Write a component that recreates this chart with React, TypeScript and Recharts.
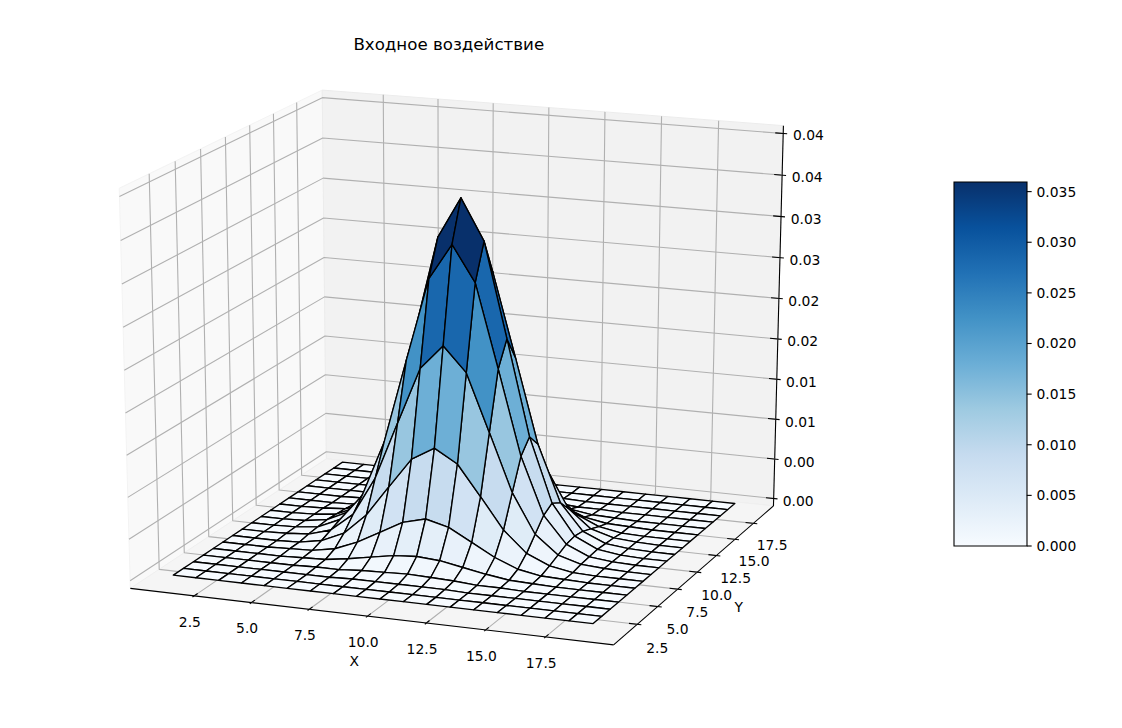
import React from 'react';
import { ScatterChart, Scatter, XAxis, YAxis, BarChart, Bar } from 'recharts';

const FONT = '"DejaVu Sans", "Liberation Sans", sans-serif';

// ---------------- data ----------------
const xValues = [1, 2, 3, 4, 5, 6, 7, 8, 9, 10, 11, 12, 13, 14, 15, 16, 17, 18, 19];
const yValues = [1, 2, 3, 4, 5, 6, 7, 8, 9, 10, 11, 12, 13, 14, 15, 16, 17, 18, 19];

const Z0 = [0, 0, 0, 0, 0, 0, 0, 0, 0, 0, 0, 0, 0, 0, 0, 0, 0, 0, 0];
const Z7 = [0, 0, 0, 0, 0, 0, 0, 0.0001, 0.0001, 0.0001, 0.0001, 0.0001, 0, 0, 0, 0, 0, 0, 0];
const Z6 = [0, 0, 0, 0, 0, 0.0001, 0.0001, 0.0003, 0.0004, 0.0005, 0.0004, 0.0003, 0.0001, 0.0001, 0, 0, 0, 0, 0];
const Z5 = [0, 0, 0, 0, 0.0001, 0.0002, 0.0006, 0.0011, 0.0016, 0.0018, 0.0016, 0.0011, 0.0006, 0.0002, 0.0001, 0, 0, 0, 0];
const Z4 = [0, 0, 0, 0.0001, 0.0002, 0.0007, 0.0018, 0.0033, 0.0048, 0.0055, 0.0048, 0.0033, 0.0018, 0.0007, 0.0002, 0.0001, 0, 0, 0];
const Z3 = [0, 0, 0, 0.0001, 0.0006, 0.0018, 0.0043, 0.008, 0.0116, 0.0132, 0.0116, 0.008, 0.0043, 0.0018, 0.0006, 0.0001, 0, 0, 0];
const Z2 = [0, 0, 0.0001, 0.0003, 0.0011, 0.0033, 0.008, 0.0149, 0.0217, 0.0246, 0.0217, 0.0149, 0.008, 0.0033, 0.0011, 0.0003, 0.0001, 0, 0];
const Z1 = [0, 0, 0.0001, 0.0004, 0.0016, 0.0048, 0.0116, 0.0217, 0.0316, 0.0358, 0.0316, 0.0217, 0.0116, 0.0048, 0.0016, 0.0004, 0.0001, 0, 0];
const ZC = [0, 0, 0.0001, 0.0005, 0.0018, 0.0055, 0.0132, 0.0246, 0.0358, 0.0406, 0.0358, 0.0246, 0.0132, 0.0055, 0.0018, 0.0005, 0.0001, 0, 0];
// rows for y = 1 .. 19
const zRows: number[][] = [Z0, Z0, Z7, Z6, Z5, Z4, Z3, Z2, Z1, ZC, Z1, Z2, Z3, Z4, Z5, Z6, Z7, Z0, Z0];

const xTicks = [2.5, 5, 7.5, 10, 12.5, 15, 17.5];
const xTickLabels = ['2.5', '5.0', '7.5', '10.0', '12.5', '15.0', '17.5'];
const yTicks = [2.5, 5, 7.5, 10, 12.5, 15, 17.5];
const yTickLabels = ['2.5', '5.0', '7.5', '10.0', '12.5', '15.0', '17.5'];
const zTicks = [0, 0.004944, 0.009889, 0.014833, 0.019778, 0.024722, 0.029667, 0.034611, 0.039556, 0.0445];
const zTickLabels = ['0.00', '0.00', '0.01', '0.01', '0.02', '0.02', '0.03', '0.03', '0.04', '0.04'];
const cbTicks = [0, 0.005, 0.01, 0.015, 0.02, 0.025, 0.03, 0.035];

const TITLE = 'Входное воздействие';
const X_LABEL = 'X';
const Y_LABEL = 'Y';

// ---------------- view / layout ----------------
const X_LIM = [0.1, 19.9];
const Y_LIM = [0.1, 19.9];
const Z_LIM = [0, 0.0445];
const ELEV = 18;
const AZIM = -69;
const DIST = 10;

const FIG_W = 1122;
const FIG_H = 728;
const AX_FRAC_W = 0.8;
const VIEW_LIM = [-0.095, 0.09];
const X_DOMAIN = [VIEW_LIM[0], VIEW_LIM[0] + (VIEW_LIM[1] - VIEW_LIM[0]) / AX_FRAC_W];
const Y_DOMAIN = [VIEW_LIM[0], VIEW_LIM[1]];

const CB_X = 0.85 * FIG_W;
const CB_Y = 0.25 * FIG_H;
const CB_H = 0.5 * FIG_H;
const CB_W = CB_H / 5;

const TICK_FS = 13.89;
const TITLE_FS = 16.67;

const BLUES = ['#f7fbff', '#deebf7', '#c6dbef', '#9ecae1', '#6baed6', '#4292c6', '#2171b5', '#08519c', '#08306b'];

// ---------------- projection ----------------
const er = (ELEV * Math.PI) / 180;
const ar = (AZIM * Math.PI) / 180;
const W = [Math.cos(er) * Math.cos(ar), Math.cos(er) * Math.sin(ar), Math.sin(er)];
const U = [-Math.sin(ar), Math.cos(ar), 0];
const V = [-Math.sin(er) * Math.cos(ar), -Math.sin(er) * Math.sin(ar), Math.cos(er)];

const EDGE = 0.5 + 1 / 48;
const TD = (2 * EDGE) / 12;

const qx = (v: number) => (v - X_LIM[0]) / (X_LIM[1] - X_LIM[0]) - 0.5;
const qy = (v: number) => (v - Y_LIM[0]) / (Y_LIM[1] - Y_LIM[0]) - 0.5;
const qz = (v: number) => (v - Z_LIM[0]) / (Z_LIM[1] - Z_LIM[0]) - 0.5;

function project(a: number, b: number, c: number) {
  const du = U[0] * a + U[1] * b + U[2] * c;
  const dv = V[0] * a + V[1] * b + V[2] * c;
  const dw = W[0] * a + W[1] * b + W[2] * c;
  const den = DIST - dw;
  return { sx: du / den, sy: dv / den, depth: den };
}

function hexToRgb(h: string) {
  return [parseInt(h.slice(1, 3), 16), parseInt(h.slice(3, 5), 16), parseInt(h.slice(5, 7), 16)];
}
function blues(t: number) {
  const tt = Math.max(0, Math.min(1, t));
  const f = tt * 8;
  const i = Math.min(7, Math.floor(f));
  const r = f - i;
  const a = hexToRgb(BLUES[i]);
  const b = hexToRgb(BLUES[i + 1]);
  const c = a.map((v, k) => Math.round(v + (b[k] - v) * r));
  return `rgb(${c[0]},${c[1]},${c[2]})`;
}

type Style = { fill: string; stroke: string; sw: number };

// panes
const PANES: { pts: number[][]; style: Style }[] = [
  { pts: [[-EDGE, -EDGE, -EDGE], [-EDGE, EDGE, -EDGE], [-EDGE, EDGE, EDGE], [-EDGE, -EDGE, EDGE]], style: { fill: '#f9f9f9', stroke: '#f3f3f3', sw: 1 } },
  { pts: [[-EDGE, EDGE, -EDGE], [EDGE, EDGE, -EDGE], [EDGE, EDGE, EDGE], [-EDGE, EDGE, EDGE]], style: { fill: '#f2f2f2', stroke: '#ececec', sw: 1 } },
  { pts: [[-EDGE, -EDGE, -EDGE], [EDGE, -EDGE, -EDGE], [EDGE, EDGE, -EDGE], [-EDGE, EDGE, -EDGE]], style: { fill: '#f5f5f5', stroke: '#efefef', sw: 1 } },
];
const paneData = PANES.flatMap((p) => p.pts.map((q) => project(q[0], q[1], q[2])));
const paneStyles = PANES.map((p) => p.style);

// grid lines (3 points each)
const gridPolys: number[][][] = [
  ...xTicks.map((t) => [[qx(t), -EDGE, -EDGE], [qx(t), EDGE, -EDGE], [qx(t), EDGE, EDGE]]),
  ...yTicks.map((t) => [[EDGE, qy(t), -EDGE], [-EDGE, qy(t), -EDGE], [-EDGE, qy(t), EDGE]]),
  ...zTicks.map((t) => [[-EDGE, -EDGE, qz(t)], [-EDGE, EDGE, qz(t)], [EDGE, EDGE, qz(t)]]),
];
const gridData = gridPolys.flatMap((g) => g.map((q) => project(q[0], q[1], q[2])));
const gridStyles = gridPolys.map(() => ({ fill: 'none', stroke: '#b0b0b0', sw: 1.1 }));

// axis lines (2 points each)
const axisSegs: number[][][] = [
  [[-EDGE, -EDGE, -EDGE], [EDGE, -EDGE, -EDGE]],
  [[EDGE, -EDGE, -EDGE], [EDGE, EDGE, -EDGE]],
  [[EDGE, EDGE, -EDGE], [EDGE, EDGE, EDGE]],
];
const axisData = axisSegs.flatMap((g) => g.map((q) => project(q[0], q[1], q[2])));
const axisStyles = axisSegs.map(() => ({ fill: 'none', stroke: '#000', sw: 1.1 }));

// tick marks (2 points each)
const tickSegs: number[][][] = [
  ...xTicks.map((t) => [[qx(t), -EDGE - 0.1 * TD, -EDGE], [qx(t), -EDGE + 0.2 * TD, -EDGE]]),
  ...yTicks.map((t) => [[EDGE + 0.1 * TD, qy(t), -EDGE], [EDGE - 0.2 * TD, qy(t), -EDGE]]),
  ...zTicks.map((t) => [[EDGE + 0.1 * TD, EDGE, qz(t)], [EDGE - 0.2 * TD, EDGE, qz(t)]]),
];
const tickData = tickSegs.flatMap((g) => g.map((q) => project(q[0], q[1], q[2])));
const tickStyles = tickSegs.map(() => ({ fill: 'none', stroke: '#000', sw: 1.1 }));

// labels
const labelData = [
  ...xTicks.map((t, i) => ({ ...project(qx(t), -EDGE - 0.024, -EDGE - 0.06), label: xTickLabels[i] })),
  ...yTicks.map((t, i) => ({ ...project(EDGE + 0.043, qy(t), -EDGE - 0.055), label: yTickLabels[i] })),
  ...zTicks.map((t, i) => ({ ...project(EDGE + 0.055, EDGE, qz(t)), label: zTickLabels[i] })),
  { ...project(0, -EDGE - 0.072, -EDGE - 0.091), label: X_LABEL },
  { ...project(EDGE + 0.091, 0, -EDGE - 0.083), label: Y_LABEL },
];

// surface cells
type Cell = { pts: { sx: number; sy: number; depth: number }[]; avg: number; depth: number };
const cells: Cell[] = [];
for (let j = 0; j < yValues.length - 1; j++) {
  for (let i = 0; i < xValues.length - 1; i++) {
    const verts = [
      [i, j],
      [i + 1, j],
      [i + 1, j + 1],
      [i, j + 1],
    ];
    const zs = verts.map(([a, b]) => zRows[b][a]);
    const pts = verts.map(([a, b], k) => project(qx(xValues[a]), qy(yValues[b]), qz(zs[k])));
    const avg = zs.reduce((s, v) => s + v, 0) / 4;
    const depth = pts.reduce((s, p) => s + p.depth, 0) / 4;
    cells.push({ pts, avg, depth });
  }
}
const avgMin = Math.min(...cells.map((c) => c.avg));
const avgMax = Math.max(...cells.map((c) => c.avg));
cells.sort((a, b) => b.depth - a.depth);
const surfData = cells.flatMap((c) => c.pts.map((p) => ({ sx: p.sx, sy: p.sy })));
const surfStyles = cells.map((c) => ({ fill: blues((c.avg - avgMin) / (avgMax - avgMin)), stroke: '#000', sw: 1.35 }));

function groupRenderer(k: number, styles: Style[], closed: boolean) {
  return (props: any) => {
    const pts: { x: number; y: number }[] = props.points || [];
    const els: React.ReactElement[] = [];
    for (let g = 0; g * k < pts.length; g++) {
      const seg = pts.slice(g * k, g * k + k);
      const d = seg.map((p, i) => `${i ? 'L' : 'M'}${p.x},${p.y}`).join('') + (closed ? 'Z' : '');
      const s = styles[g];
      els.push(
        <path key={g} d={d} fill={closed ? s.fill : 'none'} stroke={s.stroke} strokeWidth={s.sw} strokeLinejoin="round" />
      );
    }
    return <g>{els}</g>;
  };
}

const noShape = () => <g />;
const labelShape = (p: any) => (
  <text
    x={p.cx}
    y={p.cy}
    textAnchor="middle"
    dominantBaseline="central"
    fontSize={TICK_FS}
    fontFamily={FONT}
    fill="#000"
  >
    {p.payload.label}
  </text>
);

const cbData = [{ name: 'cb', v: avgMax }];

export default function App() {
  return (
    <div style={{ position: 'absolute', left: 0, top: 0, width: FIG_W, height: FIG_H, background: '#fff' }}>
      <div style={{ position: 'absolute', left: 0, top: 0 }}>
        <ScatterChart width={FIG_W} height={FIG_H} margin={{ top: 0, right: 0, bottom: 0, left: 0 }}>
          <XAxis type="number" dataKey="sx" domain={X_DOMAIN} allowDataOverflow hide />
          <YAxis type="number" dataKey="sy" domain={Y_DOMAIN} allowDataOverflow hide />
          <Scatter data={paneData} line={groupRenderer(4, paneStyles, true)} shape={noShape} isAnimationActive={false} />
          <Scatter data={axisData} line={groupRenderer(2, axisStyles, false)} shape={noShape} isAnimationActive={false} />
          <Scatter data={gridData} line={groupRenderer(3, gridStyles, false)} shape={noShape} isAnimationActive={false} />
          <Scatter data={tickData} line={groupRenderer(2, tickStyles, false)} shape={noShape} isAnimationActive={false} />
          <Scatter data={labelData} shape={labelShape} isAnimationActive={false} />
          <Scatter data={surfData} line={groupRenderer(4, surfStyles, true)} shape={noShape} isAnimationActive={false} />
        </ScatterChart>
      </div>
      <svg style={{ position: 'absolute', left: 0, top: 0 }} width={FIG_W * AX_FRAC_W} height={70}>
        <text x={(FIG_W * AX_FRAC_W) / 2} y={49.9} textAnchor="middle" fontSize={TITLE_FS} fontFamily={FONT} fill="#000">
          {TITLE}
        </text>
      </svg>
      <div style={{ position: 'absolute', left: CB_X - 10, top: CB_Y - 10 }}>
        <BarChart width={CB_W + 80} height={CB_H + 20} data={cbData} margin={{ top: 10, right: 0, bottom: 10, left: 10 }} barCategoryGap={0}>
          <defs>
            <linearGradient id="cbGrad" x1="0" y1="1" x2="0" y2="0">
              {BLUES.map((c, i) => (
                <stop key={i} offset={`${(i / 8) * 100}%`} stopColor={c} />
              ))}
            </linearGradient>
          </defs>
          <XAxis dataKey="name" hide />
          <YAxis
            orientation="right"
            type="number"
            domain={[avgMin, avgMax]}
            ticks={cbTicks}
            interval={0}
            width={70}
            axisLine={false}
            tickSize={4.86}
            tickMargin={4.86}
            tickLine={{ stroke: '#000', strokeWidth: 1.1 }}
            tick={{ fontSize: TICK_FS, fontFamily: FONT, fill: '#000' }}
            tickFormatter={(v: number) => v.toFixed(3)}
          />
          <Bar dataKey="v" fill="url(#cbGrad)" stroke="#000" strokeWidth={1.1} isAnimationActive={false} />
        </BarChart>
      </div>
    </div>
  );
}
